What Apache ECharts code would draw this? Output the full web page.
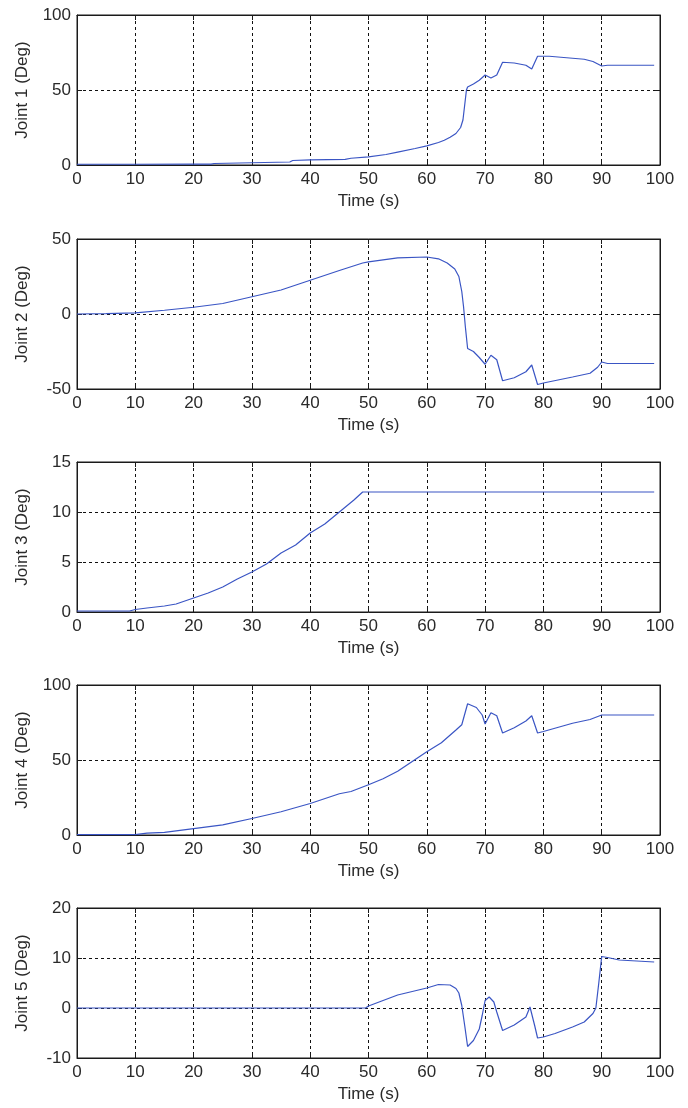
<!DOCTYPE html>
<html>
<head>
<meta charset="utf-8">
<script src="https://cdn.jsdelivr.net/npm/echarts@6/dist/echarts.min.js"></script>
<style>
  html, body { margin: 0; padding: 0; background: #fff; }
  #chart { width: 688px; height: 1108px; }
</style>
</head>
<body>
<div id="chart"></div>
<script>
// Joint trajectories: [time (s), angle (deg)]
const joint1 = [[0,0.5],[10,0.5],[20,0.6],[23,0.6],[23.5,1],[30,1.5],[36.5,2],[37,3],[40,3.4],[46,3.8],[47,4.5],[50,5.4],[53,7],[55,8.6],[58,11],[60,12.8],[62,15],[63,16.5],[64,18.5],[65,21],[65.8,25],[66.2,30],[66.5,40],[66.8,50],[67,52],[68,54],[69,56.5],[70,60],[71,58],[72,60],[73,68.5],[75,68],[77,66.5],[78,64],[79,72.5],[81,72.5],[84,71.5],[87,70.5],[88.5,69],[90,66],[91,66.5],[99,66.5]];
const joint2 = [[0,0],[5,0.3],[10,0.7],[15,2.5],[20,4.5],[25,7],[30,11.5],[35,16],[40,22.5],[45,29],[49,34],[50,34.8],[55,37.4],[60,38],[62,36.8],[63.5,34],[64.8,30],[65.5,25],[66,15],[66.3,5],[66.6,-8],[67,-23],[68,-25],[69,-29],[70,-33.5],[71,-27.5],[72,-30.5],[73,-44.5],[75,-42.5],[77,-38.5],[78,-34],[79,-47],[80,-46],[85,-42],[88,-39.5],[89.3,-35.5],[90,-32],[91,-33],[99,-33]];
const joint3 = [[0,0.1],[9,0.1],[10,0.25],[12,0.4],[15,0.6],[17,0.8],[20,1.4],[22.5,1.9],[25,2.5],[27.5,3.3],[30,4],[32.5,4.8],[35,5.9],[37.5,6.7],[40,7.9],[42.5,8.8],[45,10],[47.5,11.2],[49,12],[99,12]];
const joint4 = [[0,0.3],[10,0.3],[12,1.3],[15,1.8],[20,4.3],[25,6.8],[30,11],[35,15.5],[40,21],[45,27.5],[47,29],[50,33.5],[52.5,37.5],[55,42.5],[57.5,49],[60,55.5],[62.5,61.5],[65,70],[66,73.5],[67,87.5],[68.5,85],[69.5,80],[70,74],[71,81.5],[72,79.5],[73,68],[75,71.5],[77,76],[78,79.5],[79,68],[80,69],[85,74.5],[88,77],[90,80],[99,80]];
const joint5 = [[0,0],[49.5,0],[50,0.4],[55,2.6],[60,4],[62,4.7],[64,4.6],[65,3.9],[65.5,3],[66,0.5],[66.5,-3.5],[67,-7.7],[68,-6.5],[69,-4.2],[69.5,-1.5],[70,1.5],[70.7,2.2],[71.5,1.2],[72,-0.8],[73,-4.5],[75,-3.4],[77,-1.8],[77.7,0.2],[78.5,-3.5],[79,-6],[80,-5.8],[82,-5.1],[85,-3.8],[87,-2.8],[88.5,-1.1],[89,0],[89.5,5],[90,10.3],[91,10.1],[93,9.6],[96,9.4],[99,9.2]];

const series = [joint1, joint2, joint3, joint4, joint5];
const yNames = ['Joint 1 (Deg)', 'Joint 2 (Deg)', 'Joint 3 (Deg)', 'Joint 4 (Deg)', 'Joint 5 (Deg)'];
const yMin = [0, -50, 0, 0, -10];
const yMax = [100, 50, 15, 100, 20];
const yStep = [50, 50, 5, 50, 10];
const xName = 'Time (s)';
const xMin = 0, xMax = 100, xStep = 10;

const panelTop = [15, 239, 462, 685, 908];
const panelH = 150;
const ink = '#1a1a1a';
const textInk = '#2a2a2a';
const fontFam = '"Liberation Sans", Arial, sans-serif';
const fs = 17;
const gridLine = { show: true, lineStyle: { color: '#111', width: 1, type: [3, 3] } };

const option = { animation: false, grid: [], xAxis: [], yAxis: [], series: [] };

series.forEach((data, i) => {
  option.grid.push({ left: 77, width: 583, top: panelTop[i], height: panelH,
    show: true, borderColor: ink, borderWidth: 1, containLabel: false });
  // bottom axis with labels and title
  option.xAxis.push({
    type: 'value', gridIndex: i, min: xMin, max: xMax, interval: xStep,
    position: 'bottom',
    name: xName, nameLocation: 'middle', nameGap: 28,
    nameTextStyle: { color: textInk, fontSize: fs, fontFamily: fontFam },
    axisLine: { show: true, onZero: false, lineStyle: { color: ink } },
    axisTick: { show: true, inside: true, length: 5, lineStyle: { color: ink } },
    axisLabel: { color: textInk, fontSize: fs, fontFamily: fontFam, margin: 6 },
    splitLine: gridLine
  });
  // mirrored top ticks
  option.xAxis.push({
    type: 'value', gridIndex: i, min: xMin, max: xMax, interval: xStep,
    position: 'top',
    axisLine: { show: true, onZero: false, lineStyle: { color: ink } },
    axisTick: { show: true, inside: true, length: 5, lineStyle: { color: ink } },
    axisLabel: { show: false }, splitLine: { show: false }
  });
  option.yAxis.push({
    type: 'value', gridIndex: i, min: yMin[i], max: yMax[i], interval: yStep[i],
    position: 'left',
    name: yNames[i], nameLocation: 'middle', nameGap: 46,
    nameTextStyle: { color: textInk, fontSize: fs, fontFamily: fontFam },
    axisLine: { show: true, onZero: false, lineStyle: { color: ink } },
    axisTick: { show: true, inside: true, length: 5, lineStyle: { color: ink } },
    axisLabel: { color: textInk, fontSize: fs, fontFamily: fontFam, margin: 6 },
    splitLine: gridLine
  });
  option.yAxis.push({
    type: 'value', gridIndex: i, min: yMin[i], max: yMax[i], interval: yStep[i],
    position: 'right',
    axisLine: { show: true, onZero: false, lineStyle: { color: ink } },
    axisTick: { show: true, inside: true, length: 5, lineStyle: { color: ink } },
    axisLabel: { show: false }, splitLine: { show: false }
  });
  option.series.push({
    type: 'line', xAxisIndex: 2 * i, yAxisIndex: 2 * i, data: data,
    showSymbol: false, smooth: false,
    lineStyle: { color: '#3a55c4', width: 1.2 }
  });
});

const chart = echarts.init(document.getElementById('chart'), null, { renderer: 'canvas' });
chart.setOption(option);
</script>
</body>
</html>
